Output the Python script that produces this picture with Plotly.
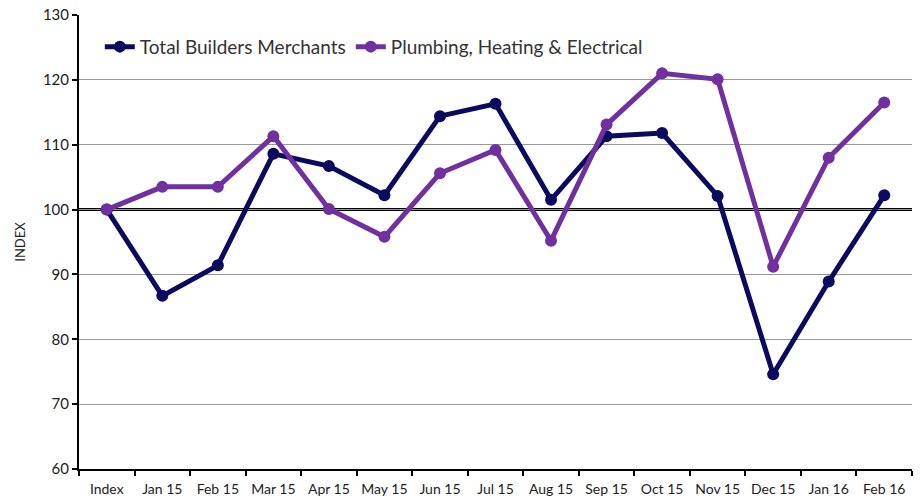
import plotly.graph_objects as go

categories = ["Index", "Jan 15", "Feb 15", "Mar 15", "Apr 15", "May 15", "Jun 15", "Jul 15",
              "Aug 15", "Sep 15", "Oct 15", "Nov 15", "Dec 15", "Jan 16", "Feb 16"]
total_builders = [100, 86.7, 91.4, 108.6, 106.7, 102.2, 114.4, 116.3, 101.5, 111.3, 111.8, 102.1, 74.6, 88.9, 102.2]
plumbing = [100, 103.5, 103.5, 111.3, 100.1, 95.8, 105.6, 109.2, 95.2, 113.1, 121.0, 120.1, 91.2, 108.0, 116.5]

navy = "#0A0A5E"
purple = "#7030A0"
font = "Lato"

fig = go.Figure()
fig.add_trace(go.Scatter(x=categories, y=total_builders, name="Total Builders Merchants",
                         mode="lines+markers", line=dict(color=navy, width=5),
                         marker=dict(color=navy, size=12)))
fig.add_trace(go.Scatter(x=categories, y=plumbing, name="Plumbing, Heating & Electrical",
                         mode="lines+markers", line=dict(color=purple, width=5),
                         marker=dict(color=purple, size=12)))

fig.add_shape(type="line", xref="paper", x0=0, x1=1, yref="y", y0=100, y1=100,
              line=dict(color="black", width=3), layer="between")

fig.update_layout(
    width=920, height=498,
    margin=dict(l=79, r=8, t=15, b=29, autoexpand=False),
    paper_bgcolor="white", plot_bgcolor="white",
    font=dict(family=font, size=14, color="#333333"),
    showlegend=True,
    legend=dict(orientation="h", x=0.025, y=0.93, xanchor="left", yanchor="middle",
                font=dict(family=font, size=19, color="#333333"),
                bgcolor="rgba(0,0,0,0)", itemwidth=30, tracegroupgap=0),
    xaxis=dict(type="category", range=[-0.5, 14.5], showgrid=False, automargin=False,
               showline=True, linecolor="black", linewidth=2, tickangle=0,
               ticks="outside", tickson="boundaries", ticklen=5, tickcolor="black", tickwidth=2,
               ticklabelstandoff=6,
               tickfont=dict(family=font, size=14, color="#222222")),
    yaxis=dict(range=[60, 130], dtick=10, showgrid=True, gridcolor="#999999", gridwidth=1,
               showline=True, linecolor="black", linewidth=2, automargin=False,
               ticks="outside", ticklen=5, tickcolor="black", tickwidth=2,
               tickfont=dict(family=font, size=15, color="#222222"),
               title=dict(text="INDEX", font=dict(family=font, size=13, color="#222222"), standoff=14),
               zeroline=False),
)

fig.write_html("out.html", config={"displayModeBar": False},
               post_script="document.body.style.margin='0';document.body.style.padding='0';")
